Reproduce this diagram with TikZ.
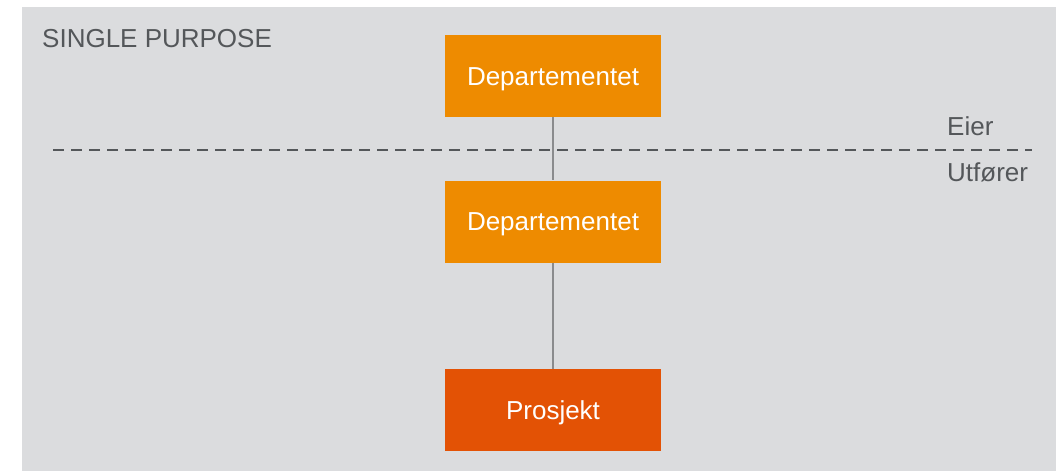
\documentclass[tikz,border=0pt]{standalone}
\usepackage{fontspec}
\setmainfont{Liberation Sans}

\definecolor{bggray}{HTML}{DBDCDE}
\definecolor{deporange}{HTML}{EE8B00}
\definecolor{projorange}{HTML}{E35205}
\definecolor{txtgray}{HTML}{54575A}
\definecolor{linegray}{HTML}{8A8B8D}

\tikzset{
  orgbox/.style={fill=deporange, text=white, minimum width=216pt, minimum height=82pt, inner sep=0pt, text height=18.5pt, text depth=0pt, font=\fontsize{26}{30}\selectfont},
  projbox/.style={orgbox, fill=projorange},
  label/.style={text=txtgray, inner sep=0pt, font=\fontsize{26}{30}\selectfont},
  link/.style={linegray, line width=1.4pt}
}

\begin{document}
\begin{tikzpicture}[x=1pt,y=-1pt]

\useasboundingbox (0,0) rectangle (1056,471);
\fill[bggray] (22,7) rectangle (1056,471);

\node [label, anchor=base west] (title) at (42,47) {SINGLE PURPOSE};

\node [orgbox] (dep1) at (553,76) {Departementet};
\node [orgbox] (dep2) at (553,221.5) {Departementet};
\node [projbox] (proj) at (553,410) {Prosjekt};

\draw[link] (dep1)--(dep2);
\draw[link] (dep2)--(proj);

\coordinate (dashl) at (53,150);
\coordinate (dashr) at (1032,150);
\draw[txtgray, line width=2.6pt, dash pattern=on 11pt off 7pt] (dashl)--(dashr);

\node [label, anchor=base west] (eier) at (947,135.5) {Eier};
\node [label, anchor=base west] (utforer) at (947,181.5) {Utfører};

\end{tikzpicture}
\end{document}
